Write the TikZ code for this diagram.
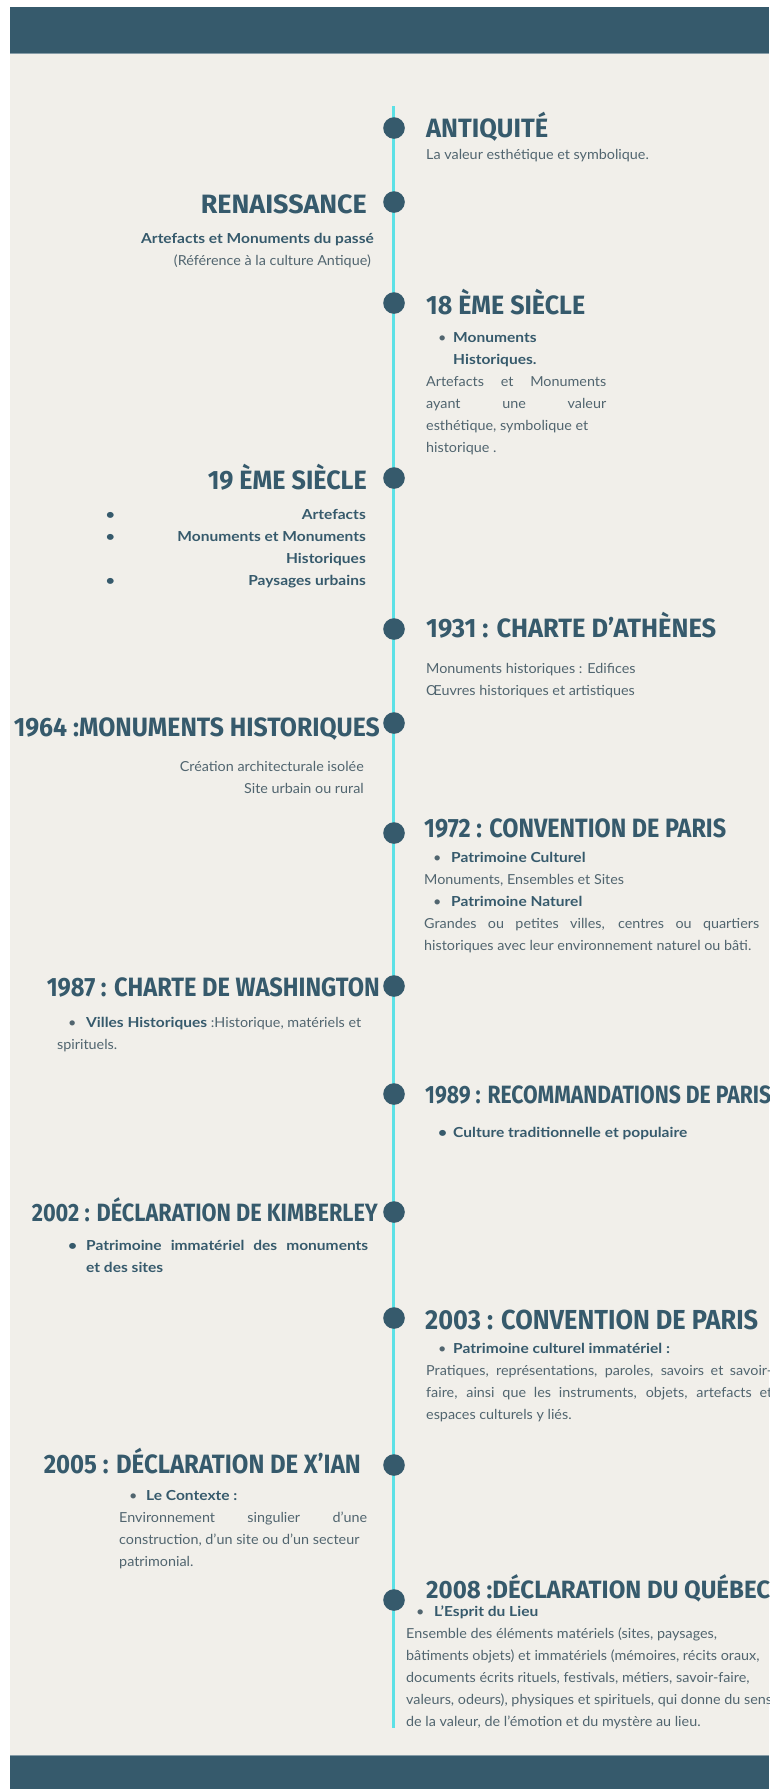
\documentclass[tikz,border=0pt]{standalone}
\usepackage{fontspec}
\usepackage{graphicx}
\setmainfont{Lato}[FakeStretch=1.04, BoldFeatures={FakeStretch=1.125}]
\newfontfamily\tfont{Fira Sans}
\definecolor{navy}{HTML}{365A6C}
\definecolor{bodyc}{HTML}{51656F}
\definecolor{turq}{HTML}{5CE1E6}
\definecolor{beige}{HTML}{F1EFEA}
\newcommand\mypar[2]{\parbox[t]{#1}{#2}}
\newcommand\blt[2]{\hspace*{#1}\makebox[#2][l]{\textbullet}}
\newcommand\tw[2]{\resizebox{#1}{\height}{#2}}
\tikzset{
  ttl/.style={font=\tfont\bfseries\fontsize{26.5}{26.5}\selectfont, text=navy, inner sep=0pt},
  ttlsm/.style={font=\tfont\bfseries\fontsize{25}{25}\selectfont, text=navy, inner sep=0pt},
  ttlbig/.style={font=\tfont\bfseries\fontsize{27.5}{27.5}\selectfont, text=navy, inner sep=0pt},
  bdy/.style={font=\fontsize{13.8}{22}\selectfont, text=bodyc, inner sep=0pt},
  bbdy/.style={font=\fontsize{13.8}{22}\selectfont\bfseries, text=navy, inner sep=0pt},
  tdot/.style={circle, fill=navy, minimum size=21.6pt, inner sep=0pt},
}
\begin{document}
\begin{tikzpicture}[x=1pt,y=-1pt]
\useasboundingbox (0,0) rectangle (769,1789);
\fill[white] (0,0) rectangle (769,1789);
\fill[beige] (10,53) rectangle (769,1756);
\fill[navy] (10,7) rectangle (769,53);
\fill[navy] (10,1756) rectangle (769,1789);
\draw[navy!60!white, line width=1pt] (10,53.5) -- (769,53.5);
\draw[navy!60!white, line width=1pt] (10,1755.5) -- (769,1755.5);
% timeline
\coordinate (top) at (393,106);
\coordinate (bot) at (393,1728);
\draw[turq, line width=3pt] (top) -- (bot);
% dots
\node[tdot] (d1) at (394,128) {};
\node[tdot] (d2) at (394,202) {};
\node[tdot] (d3) at (394,303) {};
\node[tdot] (d4) at (394,478) {};
\node[tdot] (d5) at (394,629) {};
\node[tdot] (d6) at (394,723) {};
\node[tdot] (d7) at (394,833) {};
\node[tdot] (d8) at (394,986) {};
\node[tdot] (d9) at (394,1094) {};
\node[tdot] (d10) at (394,1212) {};
\node[tdot] (d11) at (394,1318) {};
\node[tdot] (d12) at (394,1465) {};
\node[tdot] (d13) at (394,1600) {};

% 1 Antiquite
\node[ttl, anchor=base west] (t1) at (426,137) {\tw{122pt}{ANTIQUITÉ}};
\node[bdy, anchor=base west] (b1) at (426,159) {La valeur esthétique et symbolique.};

% 2 Renaissance
\node[ttl, anchor=base east] (t2) at (367,213) {\tw{166pt}{RENAISSANCE}};
\node[bdy, anchor=base east] (b2) at (374,243) {\mypar{260pt}{\raggedleft\textbf{\color{navy}Artefacts et Monuments du passé}\\\mbox{}(Référence à la culture Antique)\hspace*{3pt}}};

% 3 18e
\node[ttl, anchor=base west] (t3) at (426,314) {\tw{159pt}{18 ÈME SIÈCLE}};
\node[bdy, anchor=base west] (b3) at (426,342) {\mypar{180pt}{\raggedright
\blt{12pt}{15pt}\textbf{\color{navy}Monuments}\\
\hspace*{27pt}\textbf{\color{navy}Historiques.}\\
\makebox[\linewidth][s]{Artefacts et Monuments}\\
\makebox[\linewidth][s]{ayant une valeur}\\
esthétique, symbolique et\\
historique .}};

% 4 19e
\node[ttl, anchor=base east] (t4) at (367,489) {\tw{159pt}{19 ÈME SIÈCLE}};
\node[bbdy, anchor=base east] (b4) at (366,519) {\mypar{260pt}{\raggedleft
\makebox[\linewidth]{\textbullet\hfill Artefacts}\\
\makebox[\linewidth]{\textbullet\hfill Monuments et Monuments}\\
Historiques\\
\makebox[\linewidth]{\textbullet\hfill Paysages urbains}}};

% 5 1931
\node[ttl, anchor=base west] (t5) at (426,637) {\tw{290pt}{1931 : CHARTE D’ATHÈNES}};
\node[bdy, anchor=base west] (b5) at (426,673) {\mypar{300pt}{\raggedright
Monuments historiques : Edifices\\
Œuvres historiques et artistiques}};

% 6 1964
\node[ttl, anchor=base east] (t6) at (380,736) {\tw{366pt}{1964 :MONUMENTS HISTORIQUES}};
\node[bdy, anchor=base east] (b6) at (364,771) {\mypar{300pt}{\raggedleft
Création architecturale isolée\\
Site urbain ou rural}};

% 7 1972
\node[ttl, anchor=base west] (t7) at (424,837) {\tw{302pt}{1972 : CONVENTION DE PARIS}};
\node[bdy, anchor=base west] (b7) at (424,862) {\mypar{335pt}{\raggedright
\blt{9pt}{18pt}\textbf{\color{navy}Patrimoine Culturel}\\
Monuments, Ensembles et Sites\\
\blt{9pt}{18pt}\textbf{\color{navy}Patrimoine Naturel}\\
\makebox[\linewidth][s]{Grandes ou petites villes, centres ou quartiers}\\
historiques avec leur environnement naturel ou bâti.}};

% 8 1987
\node[ttl, anchor=base east] (t8) at (380,996) {\tw{333pt}{1987 : CHARTE DE WASHINGTON}};
\node[bdy, anchor=base west] (b8) at (57,1027) {\mypar{310pt}{\raggedright
\blt{11pt}{18pt}\textbf{\color{navy}Villes Historiques} :Historique, matériels et\\
spirituels.}};

% 9 1989
\node[ttlsm, anchor=base west] (t9) at (425,1103) {\tw{346pt}{1989 : RECOMMANDATIONS DE PARIS}};
\node[bbdy, anchor=base west] (b9) at (426,1137) {\blt{12pt}{15pt}Culture traditionnelle et populaire};

% 10 2002
\node[ttlsm, anchor=base east] (t10) at (378,1221) {\tw{346pt}{2002 : DÉCLARATION DE KIMBERLEY}};
\node[bbdy, anchor=base west] (b10) at (68,1250) {\mypar{300pt}{\raggedright
\makebox[18pt][l]{\textbullet}\makebox[282pt][s]{Patrimoine immatériel des monuments}\\
\hspace*{18pt}et des sites}};

% 11 2003
\node[ttlbig, anchor=base west] (t11) at (425,1329) {\tw{333pt}{2003 : CONVENTION DE PARIS}};
\node[bdy, anchor=base west] (b11) at (426,1353) {\mypar{346pt}{\raggedright
\blt{12pt}{15pt}\textbf{\color{navy}Patrimoine culturel immatériel :}\\
\makebox[\linewidth][s]{Pratiques, représentations, paroles, savoirs et savoir-}\\
\makebox[\linewidth][s]{faire, ainsi que les instruments, objets, artefacts et}\\
espaces culturels y liés.}};

% 12 2005
\node[ttl, anchor=base east] (t12) at (361,1473) {\tw{317pt}{2005 : DÉCLARATION DE X’IAN}};
\node[bdy, anchor=base west] (b12) at (119,1500) {\mypar{248pt}{\raggedright
\blt{10pt}{17pt}\textbf{\color{navy}Le Contexte :}\\
\makebox[\linewidth][s]{Environnement singulier d’une}\\
construction, d’un site ou d’un secteur\\
patrimonial.}};

% 13 2008
\node[ttlsm, anchor=base west] (t13) at (426,1598) {\tw{344pt}{2008 :DÉCLARATION DU QUÉBEC}};
\node[bdy, anchor=base west] (b13) at (406,1616) {\mypar{380pt}{\raggedright
\blt{10pt}{18pt}\textbf{\color{navy}L’Esprit du Lieu}\\
Ensemble des éléments matériels (sites, paysages,\\
bâtiments objets) et immatériels (mémoires, récits oraux,\\
documents écrits rituels, festivals, métiers, savoir-faire,\\
valeurs, odeurs), physiques et spirituels, qui donne du sens\\
de la valeur, de l’émotion et du mystère au lieu.}};
\end{tikzpicture}
\end{document}
